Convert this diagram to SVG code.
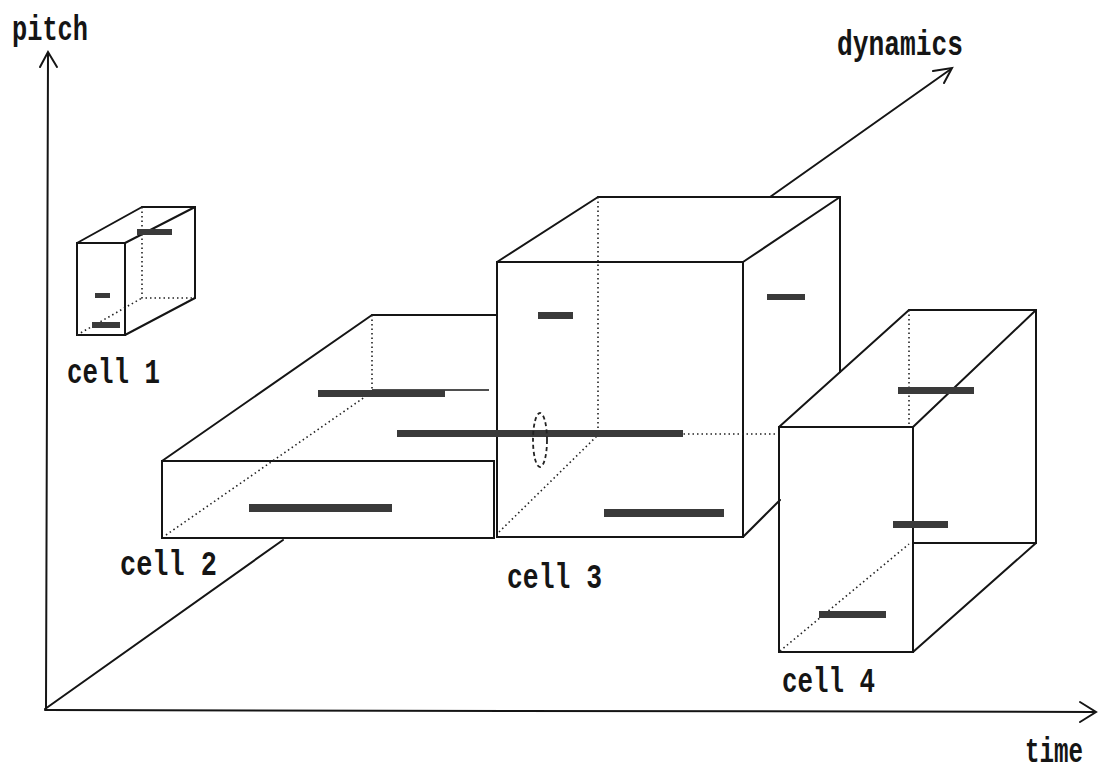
<svg xmlns="http://www.w3.org/2000/svg" width="1098" height="766" viewBox="0 0 1098 766">
  <style>
    .edge { stroke: #151515; stroke-width: 2; fill: none; stroke-linecap: round; }
    .thin { stroke: #151515; stroke-width: 1.5; fill: none; }
    .hidden { stroke: #222; stroke-width: 1.6; fill: none; stroke-dasharray: 1.5 3; }
    .note { fill: #3a3a3a; }
    .label { font-family: "Liberation Mono", "DejaVu Sans Mono", monospace; font-size: 35px; font-weight: bold; fill: #151515; }
  </style>
  <rect width="1098" height="766" fill="#ffffff"/>

  <!-- axes: pitch (up), time (right), dynamics (depth) -->
  <g id="axes">
    <line class="edge" x1="46" y1="709" x2="48" y2="54"/>
    <polyline class="edge" points="40,67 48,52 57,67"/>
    <line class="edge" x1="45" y1="710" x2="1094" y2="712"/>
    <polyline class="edge" points="1080,702 1096,712 1080,722"/>
    <line class="edge" x1="45" y1="709" x2="283" y2="540"/>
    <line class="edge" x1="770" y1="197" x2="951" y2="69"/>
    <polyline class="edge" points="933,71 952,68 944,83"/>
    <text class="label" x="12" y="40" textLength="76" lengthAdjust="spacingAndGlyphs">pitch</text>
    <text class="label" x="837" y="55" textLength="126" lengthAdjust="spacingAndGlyphs">dynamics</text>
    <text class="label" x="1025" y="762" textLength="58" lengthAdjust="spacingAndGlyphs">time</text>
  </g>

  <!-- cell 1: small box, upper left -->
  <g id="cell1">
    <rect class="edge" x="77" y="243" width="48" height="92"/>
    <polyline class="edge" points="142,207 195,207 195,298"/>
    <line class="edge" x1="77" y1="243" x2="142" y2="207"/>
    <line class="edge" x1="125" y1="243" x2="195" y2="207"/>
    <line class="edge" x1="125" y1="335" x2="195" y2="298"/>
    <polyline class="hidden" points="142,207 142,298 195,298"/>
    <line class="hidden" x1="77" y1="335" x2="142" y2="298"/>
    <rect class="note" x="137" y="229" width="35" height="6"/>
    <rect class="note" x="95" y="293" width="15" height="5"/>
    <rect class="note" x="92" y="322" width="28" height="6"/>
    <text class="label" x="67" y="383" textLength="93" lengthAdjust="spacingAndGlyphs">cell 1</text>
  </g>

  <!-- cell 2: wide flat box -->
  <g id="cell2">
    <rect class="edge" x="162" y="461" width="332" height="77"/>
    <line class="edge" x1="162" y1="461" x2="372" y2="315"/>
    <line class="edge" x1="372" y1="315" x2="497" y2="315"/>
    <line class="hidden" x1="372" y1="315" x2="372" y2="390"/>
    <line class="thin" x1="372" y1="390" x2="489" y2="390"/>
    <line class="hidden" x1="166" y1="535" x2="372" y2="392"/>
    <rect class="note" x="318" y="390" width="127" height="7"/>
    <rect class="note" x="249" y="504" width="143" height="8"/>
    <text class="label" x="120" y="575" textLength="97" lengthAdjust="spacingAndGlyphs">cell 2</text>
  </g>

  <!-- cell 3: tall central box -->
  <g id="cell3">
    <rect class="edge" x="497" y="262" width="246" height="275"/>
    <line class="edge" x1="497" y1="262" x2="598" y2="197"/>
    <line class="edge" x1="598" y1="197" x2="840" y2="197"/>
    <line class="edge" x1="743" y1="262" x2="840" y2="197"/>
    <line class="edge" x1="840" y1="197" x2="840" y2="372"/>
    <line class="edge" x1="743" y1="537" x2="780" y2="500"/>
    <line class="hidden" x1="598" y1="197" x2="598" y2="435"/>
    <line class="hidden" x1="598" y1="434" x2="780" y2="434"/>
    <line class="hidden" x1="499" y1="532" x2="598" y2="435"/>
    <rect class="note" x="397" y="430" width="286" height="7"/>
    <rect class="note" x="538" y="312" width="35" height="7"/>
    <rect class="note" x="767" y="294" width="38" height="6"/>
    <rect class="note" x="604" y="509" width="120" height="8"/>
    <ellipse cx="540" cy="440" rx="7" ry="27" fill="none" stroke="#222" stroke-width="1.8" stroke-dasharray="4 3"/>
    <text class="label" x="507" y="588" textLength="95" lengthAdjust="spacingAndGlyphs">cell 3</text>
  </g>

  <!-- cell 4: deep box, lower right -->
  <g id="cell4">
    <rect class="edge" x="779" y="427" width="134" height="225"/>
    <polyline class="edge" points="909,310 1036,310 1036,543 913,543"/>
    <line class="edge" x1="779" y1="427" x2="909" y2="310"/>
    <line class="edge" x1="913" y1="427" x2="1036" y2="310"/>
    <line class="edge" x1="913" y1="652" x2="1036" y2="543"/>
    <line class="hidden" x1="909" y1="310" x2="909" y2="427"/>
    <line class="hidden" x1="780" y1="651" x2="909" y2="544"/>
    <rect class="note" x="898" y="387" width="76" height="7"/>
    <rect class="note" x="893" y="521" width="55" height="7"/>
    <rect class="note" x="819" y="611" width="67" height="7"/>
    <text class="label" x="782" y="692" textLength="93" lengthAdjust="spacingAndGlyphs">cell 4</text>
  </g>
</svg>
